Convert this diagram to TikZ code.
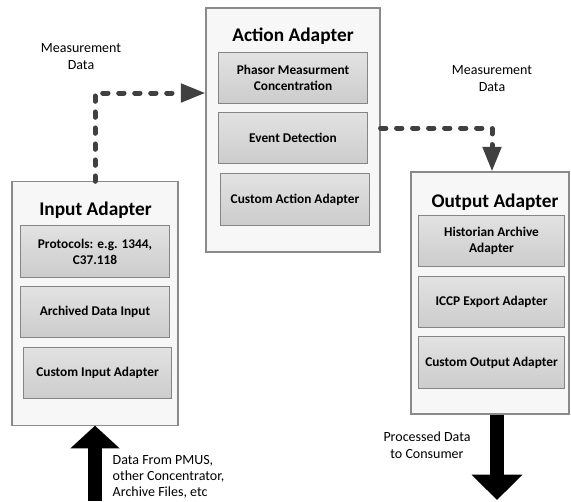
\documentclass[tikz,border=0pt]{standalone}
\usepackage{fontspec}
\setmainfont{Carlito}
\usetikzlibrary{arrows.meta,positioning,calc}

\definecolor{boxline}{HTML}{8A8A8A}
\definecolor{boxfill}{HTML}{F7F7F7}
\definecolor{subline}{HTML}{858585}
\definecolor{subtop}{HTML}{E2E2E2}
\definecolor{subbot}{HTML}{CCCCCC}
\definecolor{flowgray}{HTML}{404040}

\begin{document}
\begin{tikzpicture}[
  x=0.75pt, y=-0.75pt,
  font=\fontsize{10.5}{12.8}\selectfont,
  % ---- Node styles ----
  outer/.style={draw=boxline, fill=boxfill, line width=0.8pt, minimum width=124.5pt,
                minimum height=182.5pt, inner sep=0pt},
  inner/.style={draw=subline, line width=0.6pt, top color=subtop, bottom color=subbot,
                minimum width=111.5pt, minimum height=38.5pt, align=center, inner sep=2pt,
                font=\fontsize{10}{12}\selectfont\bfseries},
  title/.style={font=\fontsize{14.5}{16}\selectfont\bfseries},
  label/.style={align=center},
  % ---- Lines ----
  dline/.style={draw=flowgray, line width=3.75pt, line cap=round, line join=round,
                dash pattern=on 4pt off 8pt,
                -{Triangle[length=18.5pt, width=13.5pt]}},
  bigarrow/.style={draw=black, line width=10.5pt,
                   -{Triangle[length=17pt, width=36pt]}}
]

\useasboundingbox (0,0) rectangle (571,501);

% ===== Outer adapter boxes =====
\node[outer] (inA)  at (95,  303.5) {};
\node[outer, minimum width=130.5pt, minimum height=183pt] (actA) at (293, 130) {};
\node[outer, minimum width=118.5pt, minimum height=181.5pt] (outA) at (490, 293) {};

% ===== Titles =====
\node[title] (inT)  at (95.5, 210) {Input Adapter};
\node[title] (actT) at (293,  36)  {Action Adapter};
\node[title] (outT) at (495,  202) {Output Adapter};

% ===== Input adapter parts =====
\node[inner] (proto) at (95,  251.5) {Protocols: e.g. 1344,\\C37.118};
\node[inner] (arch)  at (95,  312)   {Archived Data Input};
\node[inner] (cusIn) at (97.5,373)   {Custom Input Adapter};

% ===== Action adapter parts =====
\node[inner] (pmc)   at (293, 78)    {Phasor Measurment\\Concentration};
\node[inner] (event) at (293, 138)   {Event Detection};
\node[inner] (cusAc) at (295, 199.5) {Custom Action Adapter};

% ===== Output adapter parts =====
\node[inner, minimum width=110pt] (hist)   at (491.5, 241)   {Historian Archive\\Adapter};
\node[inner, minimum width=110pt] (iccp)   at (491.5, 302)   {ICCP Export Adapter};
\node[inner, minimum width=110pt] (cusOut) at (491.5, 362.5) {Custom Output Adapter};

% ===== Labels =====
\node[label] (measL) at (81, 57)  {Measurement\\Data};
\node[label] (measR) at (492, 79) {Measurement\\Data};
\node[align=left, anchor=north west, font=\fontsize{10.5}{12}\selectfont] (srcTxt) at (108, 451)
  {Data From PMUS,\\other Concentrator,\\Archive Files, etc};
\node[label] (sinkTxt) at (427, 445) {Processed Data\\to Consumer};

% ===== Connections =====
\coordinate (bendA) at (95, 93);
\draw[dline] (inA.north) -- (bendA) -- (actA.west |- bendA);

\coordinate (bendB) at (492, 128);
\draw[dline] (actA.east |- bendB) -- (bendB) -- (outA.north -| bendB);

% big feed arrows
\coordinate (srcIn)   at (95, 501);
\coordinate (sinkOut) at (497, 500);
\draw[bigarrow] (srcIn) -- (inA.south);
\draw[bigarrow, line width=11pt, -{Triangle[length=19pt, width=37pt]}]
  (outA.south -| sinkOut) -- (sinkOut);

\end{tikzpicture}
\end{document}
